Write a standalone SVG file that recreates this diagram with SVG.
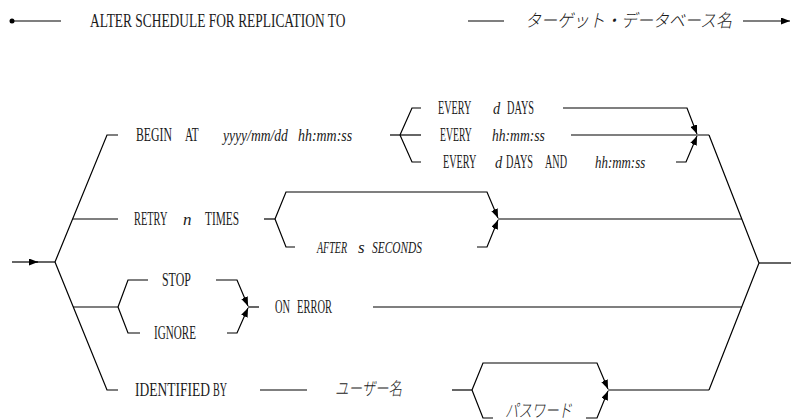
<svg xmlns="http://www.w3.org/2000/svg" width="791" height="420" viewBox="0 0 791 420">
  <style>
    text { font-family: "Liberation Serif", "Times New Roman", serif; font-size: 18px; fill: #1a1a1a; }
    .it { font-size: 17px; font-style: italic; }
    .jp { font-family: "Noto Sans CJK JP", sans-serif; font-style: italic; font-weight: 300; }
    .ln { fill: none; stroke: #000; stroke-width: 1.2; }
  </style>
  <defs>
    <marker id="arr" viewBox="0 0 9 7" refX="9" refY="3.5" markerWidth="9" markerHeight="7" markerUnits="userSpaceOnUse" orient="auto">
      <path d="M0,0 L9,3.5 L0,7 z" fill="#000"/>
    </marker>
  </defs>

  <rect width="791" height="420" fill="#fff"/>

  <!-- statement head (narrow serif: each word squeezed horizontally) -->
  <g id="head">
    <text transform="translate(90 27) scale(0.746 1)">ALTER SCHEDULE FOR REPLICATION TO</text>
  </g>
  <g id="target-db">
    <text class="jp" x="525" y="27" font-size="16" textLength="207" lengthAdjust="spacingAndGlyphs">ターゲット・データベース名</text>
  </g>

  <!-- BEGIN AT clause -->
  <g id="begin-at">
    <text transform="translate(136 141) scale(0.655 1)">BEGIN</text>
    <text transform="translate(185 141) scale(0.625 1)">AT</text>
    <text class="it" transform="translate(223 141) scale(0.8 1)">yyyy/mm/dd</text>
    <text class="it" transform="translate(298 141) scale(0.82 1)">hh:mm:ss</text>
  </g>
  <g id="every-days">
    <text transform="translate(438 114) scale(0.567 1)">EVERY</text>
    <text class="it" transform="translate(493 114) scale(0.85 1)">d</text>
    <text transform="translate(507 114) scale(0.571 1)">DAYS</text>
  </g>
  <g id="every-time">
    <text transform="translate(440 141) scale(0.54 1)">EVERY</text>
    <text class="it" transform="translate(492 141) scale(0.8 1)">hh:mm:ss</text>
  </g>
  <g id="every-days-and-time">
    <text transform="translate(443 168) scale(0.567 1)">EVERY</text>
    <text class="it" transform="translate(495 168) scale(0.85 1)">d</text>
    <text transform="translate(506 168) scale(0.571 1)">DAYS</text>
    <text transform="translate(545 168) scale(0.564 1)">AND</text>
    <text class="it" transform="translate(595 168) scale(0.76 1)">hh:mm:ss</text>
  </g>

  <!-- RETRY clause -->
  <g id="retry">
    <text transform="translate(134 225) scale(0.576 1)">RETRY</text>
    <text class="it" transform="translate(183 225)">n</text>
    <text transform="translate(205 225) scale(0.63 1)">TIMES</text>
  </g>
  <g id="after-seconds">
    <text class="it" transform="translate(317 253) scale(0.59 1)">AFTER</text>
    <text class="it" transform="translate(358 253)">s</text>
    <text class="it" transform="translate(372 253) scale(0.67 1)">SECONDS</text>
  </g>

  <!-- error handling clause -->
  <g id="stop">
    <text transform="translate(162 286) scale(0.66 1)">STOP</text>
  </g>
  <g id="ignore">
    <text transform="translate(154 339) scale(0.618 1)">IGNORE</text>
  </g>
  <g id="on-error">
    <text transform="translate(275 313) scale(0.577 1)">ON</text>
    <text transform="translate(297 313) scale(0.583 1)">ERROR</text>
  </g>

  <!-- IDENTIFIED BY clause -->
  <g id="identified-by">
    <text transform="translate(135 396) scale(0.75 1)">IDENTIFIED</text>
    <text transform="translate(213 396) scale(0.56 1)">BY</text>
  </g>
  <g id="user-name">
    <text class="jp" x="335" y="395" font-size="14" textLength="67" lengthAdjust="spacingAndGlyphs">ユーザー名</text>
  </g>
  <g id="password">
    <text class="jp" x="505" y="417" font-size="13.5" textLength="67" lengthAdjust="spacingAndGlyphs">パスワード</text>
  </g>

  <!-- connectors -->
  <g id="connectors" class="ln">
    <circle cx="12" cy="21" r="2.5" fill="#000" stroke="none"/>
    <path d="M12 21 H61"/>
    <path d="M468 21 H504"/>
    <path d="M743 21 H790" marker-end="url(#arr)"/>

    <!-- entry and left fan-out -->
    <path d="M12 262 H38" marker-end="url(#arr)"/>
    <path d="M36 262 H55"/>
    <path d="M55 262 L107 135 H118"/>
    <path d="M73 219 H118"/>
    <path d="M55 262 L107 390 H118"/>
    <path d="M73 307 H118"/>

    <!-- BEGIN AT options -->
    <path d="M390 135 H421"/>
    <path d="M400 135 L412 108 H421"/>
    <path d="M400 135 L412 162 H421"/>
    <path d="M563 108 H687 L697 134" marker-end="url(#arr)"/>
    <path d="M676 162 H686 L697 136" marker-end="url(#arr)"/>
    <path d="M571 135 H709"/>

    <!-- RETRY options -->
    <path d="M264 219 H275"/>
    <path d="M275 219 L286 192 H487 L498 218" marker-end="url(#arr)"/>
    <path d="M275 219 L286 247 H295"/>
    <path d="M477 247 H487 L498 220" marker-end="url(#arr)"/>
    <path d="M498 219 H742"/>

    <!-- STOP / IGNORE -->
    <path d="M118 307 L128 280 H148"/>
    <path d="M118 307 L128 333 H140"/>
    <path d="M216 280 H237 L248 306" marker-end="url(#arr)"/>
    <path d="M227 333 H237 L248 308" marker-end="url(#arr)"/>
    <path d="M248 307 H259"/>
    <path d="M373 307 H742"/>

    <!-- IDENTIFIED BY -->
    <path d="M260 390 H307"/>
    <path d="M452 390 H472"/>
    <path d="M472 390 L483 363 H597 L608 389" marker-end="url(#arr)"/>
    <path d="M472 390 L483 418 H493"/>
    <path d="M586 418 H597 L608 391" marker-end="url(#arr)"/>
    <path d="M608 390 H709"/>

    <!-- right merge -->
    <path d="M709 135 L759 263 L709 390"/>
    <path d="M759 263 H791"/>
  </g>
</svg>
